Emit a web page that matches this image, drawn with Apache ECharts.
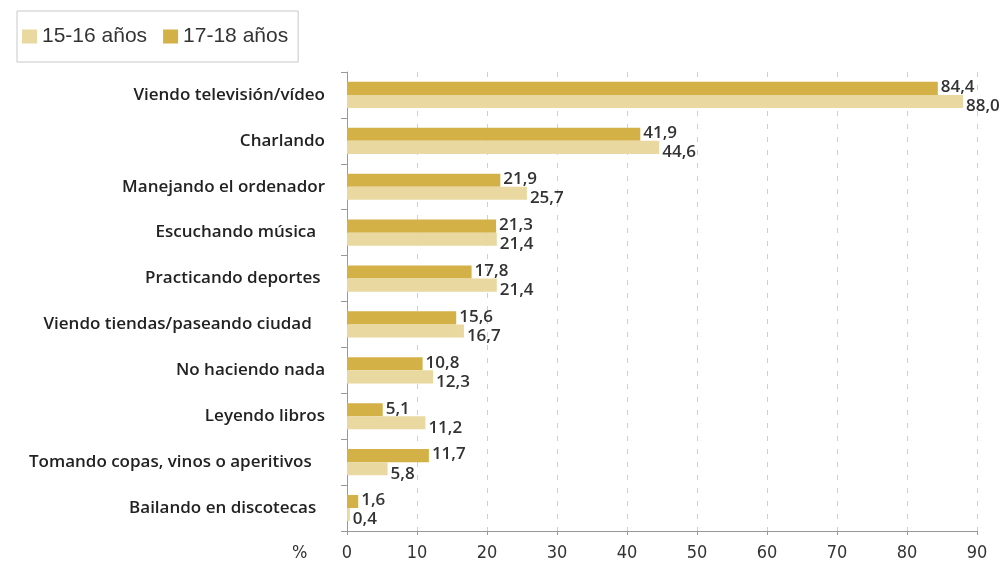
<!DOCTYPE html>
<html>
<head>
<meta charset="utf-8">
<script src="https://cdn.jsdelivr.net/npm/echarts@6/dist/echarts.min.js"></script>
<style>
  html, body { margin: 0; padding: 0; background: #fff; }
  #chart { width: 1001px; height: 566px; }
</style>
</head>
<body>
<div id="chart"></div>
<script>
// datos
var categorias = ['Viendo televisión/vídeo', 'Charlando', 'Manejando el ordenador', 'Escuchando música  ',
  'Practicando deportes ', 'Viendo tiendas/paseando ciudad   ', 'No haciendo nada', 'Leyendo libros',
  'Tomando copas, vinos o aperitivos   ', 'Bailando en discotecas  '];
var edad1718 = [84.4, 41.9, 21.9, 21.3, 17.8, 15.6, 10.8, 5.1, 11.7, 1.6];
var edad1516 = [88.0, 44.6, 25.7, 21.4, 21.4, 16.7, 12.3, 11.2, 5.8, 0.4];
var ticksX = [0, 10, 20, 30, 40, 50, 60, 70, 80, 90];

function coma(v) { return v.toFixed(1).replace('.', ','); }

var labelFont = "'Open Sans', 'DejaVu Sans', sans-serif";

var myChart = echarts.init(document.getElementById('chart'));
myChart.setOption({
    animation: false,
    legend: {
        left: 17, top: 11,
        padding: [15, 10, 15, 5],
        borderColor: '#c8c8c8', borderWidth: 1,
        itemWidth: 15, itemHeight: 14, itemGap: 16,
        icon: 'rect',
        textStyle: { fontFamily: "'Liberation Sans', Arial, sans-serif", fontSize: 21, color: '#333' },
        data: ['15-16 años', '17-18 años']
    },
    grid: { left: 347, right: 24, top: 72, bottom: 35 },
    xAxis: {
        type: 'value', min: 0, max: 90, interval: 10,
        axisLine: { show: true, lineStyle: { color: '#999' } },
        axisTick: { show: true, length: 4, lineStyle: { color: '#999' } },
        axisLabel: {
            margin: 13, color: '#333', fontSize: 18,
            fontFamily: "'DejaVu Sans Condensed', 'Liberation Sans Narrow', sans-serif",
            formatter: function (v) { return ticksX.indexOf(v) >= 0 ? String(v) : ''; }
        },
        splitLine: { show: true, lineStyle: { color: '#cfcfcf', type: [5, 8] } }
    },
    yAxis: {
        type: 'category', inverse: true, data: categorias,
        axisLine: { show: true, lineStyle: { color: '#999' } },
        axisTick: { show: true, length: 6, lineStyle: { color: '#999' } },
        axisLabel: { margin: 22, color: '#222', fontSize: 17, fontWeight: 600, fontFamily: labelFont }
    },
    graphic: [{
        type: 'text', left: 292, top: 544,
        style: { text: '%', fontSize: 18, fill: '#333', fontFamily: "'DejaVu Sans Condensed', sans-serif" }
    }],
    series: [
        {
            name: '17-18 años', type: 'bar', data: edad1718,
            barGap: '0%', barCategoryGap: '43%',
            itemStyle: { color: '#d3b146' },
            label: { show: true, position: 'right', distance: 3, offset: [0, -1], color: '#333', fontSize: 17, fontWeight: 600, fontFamily: labelFont,
                formatter: function (p) { return coma(p.value); } }
        },
        {
            name: '15-16 años', type: 'bar', data: edad1516,
            barGap: '0%', barCategoryGap: '43%',
            itemStyle: { color: '#e9d8a0' },
            label: { show: true, position: 'right', distance: 3, offset: [0, 5], color: '#333', fontSize: 17, fontWeight: 600, fontFamily: labelFont,
                formatter: function (p) { return coma(p.value); } }
        }
    ]
});
</script>
</body>
</html>
